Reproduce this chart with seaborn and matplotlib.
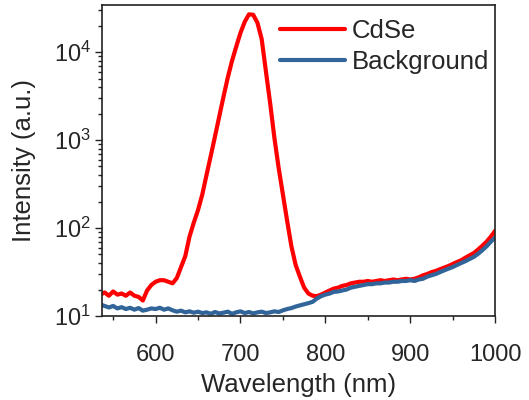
import numpy as np
import pandas as pd
import matplotlib
matplotlib.use("Agg")
import matplotlib.pyplot as plt
import seaborn as sns

# wavelength grid (nm), 5 nm steps
wavelength = np.arange(535, 1001, 5)

cdse = [17.5, 18.5, 17, 19, 17.5, 18, 17, 18.5, 17, 16.5,
        15, 19.5, 22.5, 24.5, 25.5, 25.5, 24.5, 23.5, 27, 36,
        48, 80, 115, 160, 240, 400, 660, 1100, 1850, 3100,
        5100, 7900, 11500, 16500, 22000, 26800, 26500, 21500, 14000, 6000,
        2600, 1050, 480, 240, 120, 62, 38, 28, 21, 18,
        17, 16.8, 17.5, 18.5, 19.5, 20.5, 21, 22, 22.5, 23.5,
        24, 24.5, 24.5, 25, 24.5, 25, 25.5, 25, 25.5, 26,
        25.5, 26, 26.5, 26, 26.5, 27.5, 29, 30, 31.5, 32.5,
        34, 35.5, 37, 39, 41, 43, 46, 49, 52, 57,
        63, 70, 80, 93]

background = [13.5, 13, 12.5, 13, 12.2, 12.6, 12, 12.4, 11.8, 12.3,
              11.5, 11.8, 12.2, 12, 12.4, 11.8, 12.2, 11.6, 11.2, 11.5,
              11, 11.3, 10.9, 11.2, 10.8, 11, 10.6, 11.1, 10.7, 10.9,
              11.2, 10.6, 11, 11.3, 10.8, 11.1, 10.7, 11, 11.2, 10.8,
              11, 11.3, 11.1, 11.6, 12, 12.3, 12.8, 13.2, 13.6, 14,
              14.5, 15.8, 16.8, 17.5, 18, 18.8, 19, 19.5, 20, 21,
              21.5, 22, 22.5, 23, 23, 23.5, 23.5, 24, 24, 24.5,
              24.5, 25, 25, 25.5, 25, 26, 26.5, 28, 29, 30,
              31.5, 33, 34.5, 36, 38, 40, 42, 44.5, 47, 51,
              56, 62, 70, 78]

df = pd.DataFrame({
    "Wavelength": np.concatenate([wavelength, wavelength]),
    "Intensity": cdse + background,
    "Sample": ["CdSe"] * len(wavelength) + ["Background"] * len(wavelength),
})

sns.set_style("ticks")
plt.rcParams["font.family"] = ["Liberation Sans", "DejaVu Sans"]
plt.rcParams["mathtext.fontset"] = "custom"
plt.rcParams["mathtext.rm"] = "Liberation Sans"
plt.rcParams["mathtext.it"] = "Liberation Sans:italic"
plt.rcParams["mathtext.bf"] = "Liberation Sans:bold"

fig = plt.figure(figsize=(5.29, 4.0), dpi=100)
ax = fig.add_axes([0.193, 0.21, 0.743, 0.778])

sns.lineplot(data=df, x="Wavelength", y="Intensity", hue="Sample",
             palette={"CdSe": "#FF0000", "Background": "#31659A"},
             linewidth=3, ax=ax, legend=True)

ax.set_yscale("log")
ax.set_xlim(537, 1000)
ax.set_ylim(10, 3.44e4)
ax.set_xticks([600, 700, 800, 900, 1000])
ax.set_xticks(np.arange(550, 1001, 50), minor=True)

ax.set_xlabel("Wavelength (nm)", fontsize=18.5, labelpad=5)
ax.set_ylabel("Intensity (a.u.)", fontsize=18.5, labelpad=13)
ax.tick_params(which="major", direction="out", length=5, width=1,
               labelsize=17, color="#222222")
ax.tick_params(which="minor", direction="out", length=3, width=1,
               color="#222222")
ax.tick_params(axis="x", which="major", pad=15)
ax.tick_params(axis="y", which="major", pad=3)
for sp in ax.spines.values():
    sp.set_linewidth(1.2)
    sp.set_color("#222222")

handles, labels = ax.get_legend_handles_labels()
ax.legend(handles, labels, loc="upper right", bbox_to_anchor=(0.997, 0.972),
          frameon=False, fontsize=18.5, handlelength=2.55, handletextpad=0.25,
          labelspacing=0.27, borderaxespad=0, borderpad=0.2)

fig.savefig("out.png", dpi=100)
